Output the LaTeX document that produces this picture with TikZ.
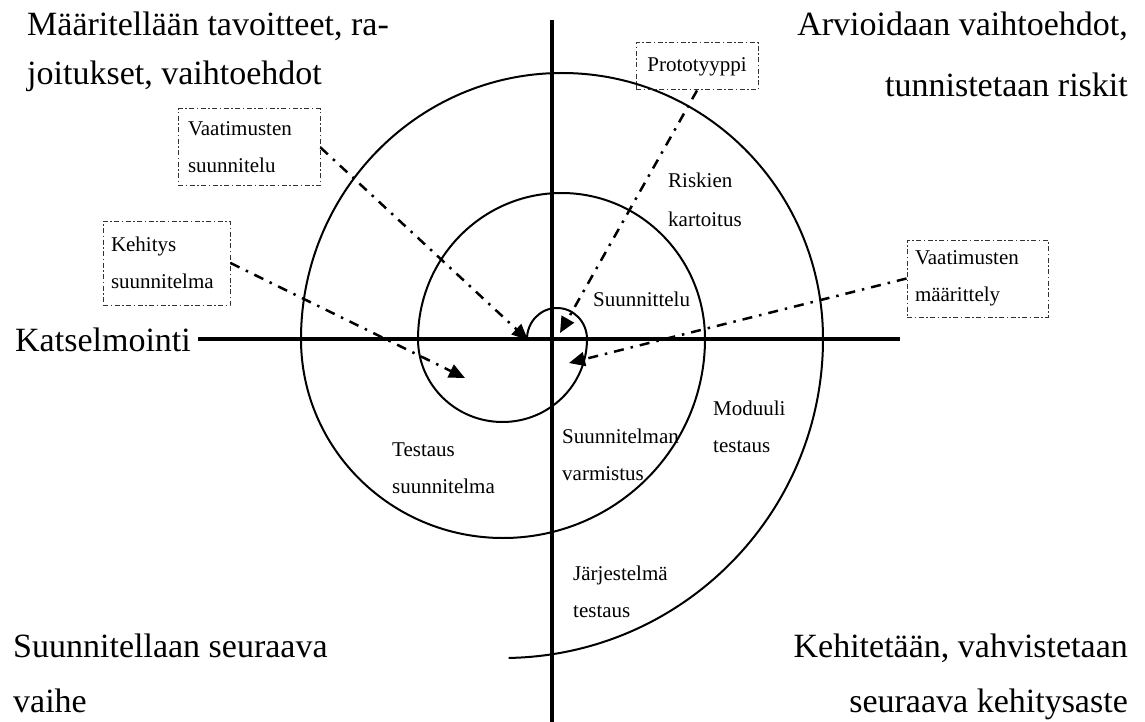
\documentclass[tikz,border=0pt]{standalone}
\usepackage{fontspec}
\setmainfont{Liberation Serif}
\usetikzlibrary{arrows.meta}
\begin{document}
\begin{tikzpicture}[x=1pt,y=-1pt,
  big/.style={font=\fontsize{34}{40}\selectfont, inner sep=0pt},
  small/.style={font=\fontsize{21}{37}\selectfont, inner sep=0pt},
  axis/.style={line width=4.5pt},
  spiral/.style={line width=2pt},
  pointer/.style={line width=2.5pt, dash pattern=on 10pt off 7pt on 2.5pt off 7pt, -{Triangle[length=16pt,width=14pt]}},
  box/.style={draw=black!80, line width=1pt, dash pattern=on 5pt off 2.5pt on 1.5pt off 2.5pt, font=\fontsize{21}{37}\selectfont, align=left, inner sep=0pt}
]
\useasboundingbox (0,0) rectangle (1145,722);

% axes
\coordinate (hl) at (198,339);
\coordinate (hr) at (900,339);
\coordinate (vt) at (552,20);
\coordinate (vb) at (552,722);
\draw[axis] (hl) -- (hr);
\draw[axis] (vt) -- (vb);

% spiral
\draw[spiral] (527,339)
  arc[start angle=180,end angle=360,x radius=30,y radius=31]
  arc[start angle=0,end angle=180,x radius=84.5,y radius=83]
  arc[start angle=180,end angle=360,x radius=143.5,y radius=146]
  arc[start angle=0,end angle=180,x radius=202,y radius=199]
  arc[start angle=180,end angle=360,x radius=261,y radius=266]
  arc[start angle=0,end angle=89,x radius=320,y radius=319];

% corner texts
\node[big, anchor=base west] (tl1) at (27,36) {Määritellään tavoitteet, ra-};
\node[big, anchor=base west] (tl2) at (27,85) {joitukset, vaihtoehdot};
\node[big, anchor=base east] (tr1) at (1128,36) {Arvioidaan vaihtoehdot,};
\node[big, anchor=base east] (tr2) at (1128,97) {tunnistetaan riskit};
\node[big, anchor=base west] (bl1) at (13,657) {Suunnitellaan seuraava};
\node[big, anchor=base west] (bl2) at (13,712) {vaihe};
\node[big, anchor=base east] (br1) at (1128,657) {Kehitetään, vahvistetaan};
\node[big, anchor=base east] (br2) at (1128,712) {seuraava kehitysaste};
\node[big, anchor=base west] (kat) at (15,351) {Katselmointi};

% inner labels
\node[small, anchor=base west] (rk1) at (668,188) {Riskien};
\node[small, anchor=base west] (rk2) at (668,226) {kartoitus};
\node[small, anchor=base west] (su) at (593,306) {Suunnittelu};
\node[small, anchor=base west] (mt1) at (713,415) {Moduuli};
\node[small, anchor=base west] (mt2) at (713,452) {testaus};
\node[small, anchor=base west] (sv1) at (562,443) {Suunnitelman};
\node[small, anchor=base west] (sv2) at (562,480) {varmistus};
\node[small, anchor=base west] (ts1) at (392,456) {Testaus};
\node[small, anchor=base west] (ts2) at (392,493) {suunnitelma};
\node[small, anchor=base west] (jt1) at (573,580) {Järjestelmä};
\node[small, anchor=base west] (jt2) at (573,617) {testaus};

% boxes
\node[box, minimum width=122pt, minimum height=47pt] (pr) at (697,66.5) {Prototyyppi};
\node[box, minimum width=142pt, minimum height=77pt, text width=122pt] (vs) at (249,147.5) {Vaatimusten\\suunnitelu};
\node[box, minimum width=127pt, minimum height=84pt, text width=111pt] (ks) at (166.5,263) {Kehitys\\suunnitelma};
\node[box, minimum width=141pt, minimum height=77pt, text width=125pt] (vm) at (977.5,278.5) {Vaatimusten\\määrittely};

% pointers
\coordinate (t1) at (528,340);
\coordinate (t2) at (465,378);
\coordinate (t3) at (560,333);
\coordinate (t4) at (569,363);
\draw[pointer] (vs.east) -- (t1);
\draw[pointer] (ks.east) -- (t2);
\draw[pointer] (pr.south) -- (t3);
\draw[pointer] (vm.west) -- (t4);
\end{tikzpicture}
\end{document}
